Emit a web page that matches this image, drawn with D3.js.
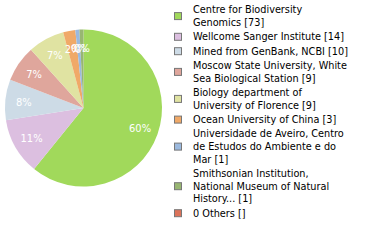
<!DOCTYPE html>
<html>
<head>
<meta charset="utf-8">
<script src="https://cdn.jsdelivr.net/npm/d3@7"></script>
<style>
  body { margin: 0; background: #fff; }
  svg text { font-family: "DejaVu Sans Condensed", "DejaVu Sans", sans-serif; }
</style>
</head>
<body>
<div id="chart"></div>
<script>
// institutions and their record counts
var names = [
    "Centre for Biodiversity Genomics",
    "Wellcome Sanger Institute",
    "Mined from GenBank, NCBI",
    "Moscow State University, White Sea Biological Station",
    "Biology department of University of Florence",
    "Ocean University of China",
    "Universidade de Aveiro, Centro de Estudos do Ambiente e do Mar",
    "Smithsonian Institution, National Museum of Natural History...",
    "0 Others"
];
var counts = [73, 14, 10, 9, 9, 3, 1, 1, null];
var colors = ["#a1d95b", "#dcbfe0", "#cddbe6", "#dfa69c", "#e0e3a2",
              "#f0a968", "#9bb9de", "#98b672", "#dc735a"];

var width = 380, height = 240;
var cx = 83.5, cy = 108, radius = 78.5;

var svg = d3.select("#chart").append("svg")
    .attr("width", width)
    .attr("height", height);

var total = d3.sum(counts);
var pieData = names.map(function(n, i) { return {name: n, value: counts[i] || 0, color: colors[i]}; })
    .filter(function(d) { return d.value > 0; });

var pie = d3.pie().sort(null).value(function(d) { return d.value; });
var arc = d3.arc().innerRadius(0).outerRadius(radius);
var labelArc = d3.arc().innerRadius(60).outerRadius(60);

var g = svg.append("g").attr("transform", "translate(" + cx + "," + cy + ")");
var arcs = pie(pieData);

g.selectAll("path")
    .data(arcs)
    .enter()
    .append("path")
    .attr("d", arc)
    .attr("fill", function(d) { return d.data.color; });

g.selectAll("text")
    .data(arcs)
    .enter()
    .append("text")
    .attr("transform", function(d) { return "translate(" + labelArc.centroid(d) + ")"; })
    .attr("text-anchor", "middle")
    .attr("dy", "0.35em")
    .attr("fill", "#fff")
    .style("font-size", "11px")
    .text(function(d) { return Math.floor(d.data.value / total * 100) + "%"; });

// wrap legend text at 30 characters
function wrap(str) {
    var words = str.split(" "), lines = [], cur = "";
    words.forEach(function(w) {
        if (cur && (cur + " " + w).length > 30) { lines.push(cur); cur = w; }
        else cur = cur ? cur + " " + w : w;
    });
    lines.push(cur);
    return lines;
}

var lineH = 12.6, gap = 1.8;
var legend = svg.append("g");
var y = 3.5;
names.forEach(function(n, i) {
    var label = n + " [" + (counts[i] === null ? "" : counts[i]) + "]";
    var lines = wrap(label);
    var h = lines.length * lineH;
    var item = legend.append("g");
    item.append("rect")
        .attr("x", 174.5)
        .attr("y", y + h / 2 - 3.5)
        .attr("width", 7)
        .attr("height", 7)
        .attr("fill", colors[i])
        .attr("stroke", "#777")
        .attr("stroke-width", 1);
    var t = item.append("text")
        .style("font-size", "10.8px")
        .attr("fill", "#000");
    lines.forEach(function(l, k) {
        t.append("tspan").attr("x", 193).attr("y", y + (k + 1) * lineH - 3).text(l);
    });
    y += h + gap;
});
</script>
</body>
</html>
